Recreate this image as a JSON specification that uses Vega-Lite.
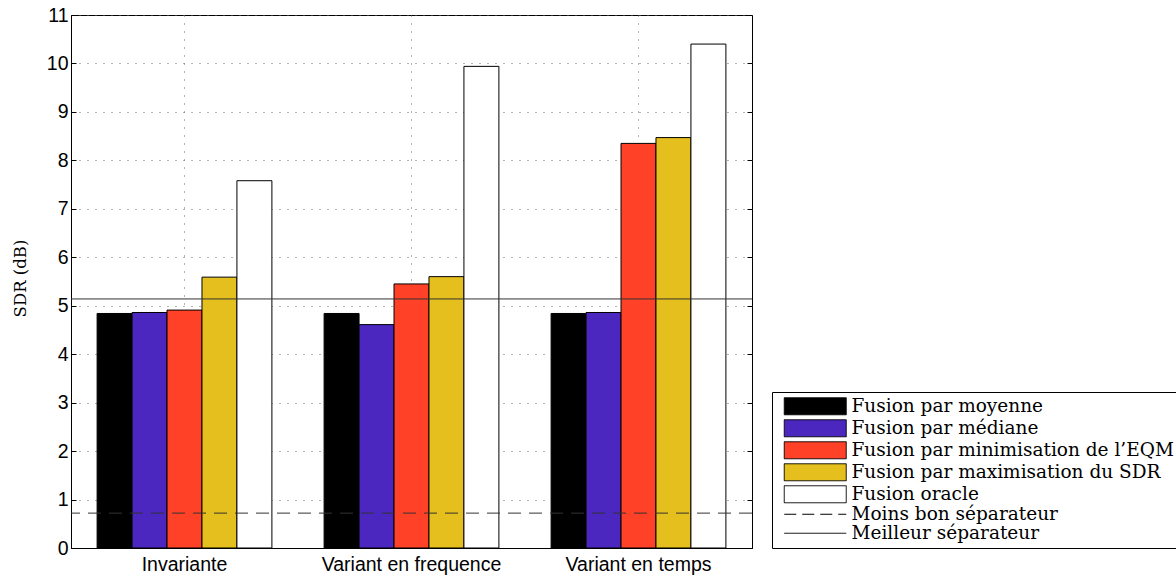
{
  "$schema": "https://vega.github.io/schema/vega-lite/v6.json",
  "width": 681,
  "height": 533,
  "autosize": {"type": "none"},
  "padding": {"left": 71, "top": 15, "right": 424, "bottom": 32},
  "background": "white",
  "config": {
    "view": {"stroke": "black", "strokeWidth": 1},
    "axis": {
      "labelFont": "Liberation Sans",
      "labelFontSize": 19.5,
      "labelColor": "black",
      "domainColor": "black",
      "tickColor": "black",
      "gridColor": "#666666",
      "gridDash": [1, 7],
      "gridWidth": 1
    }
  },
  "datasets": {
    "bars": [
      {"group": "Invariante", "series": "Fusion par moyenne", "value": 4.84},
      {"group": "Invariante", "series": "Fusion par médiane", "value": 4.86},
      {"group": "Invariante", "series": "Fusion par minimisation de l’EQM", "value": 4.91},
      {"group": "Invariante", "series": "Fusion par maximisation du SDR", "value": 5.59},
      {"group": "Invariante", "series": "Fusion oracle", "value": 7.58},
      {"group": "Variant en frequence", "series": "Fusion par moyenne", "value": 4.84},
      {"group": "Variant en frequence", "series": "Fusion par médiane", "value": 4.61},
      {"group": "Variant en frequence", "series": "Fusion par minimisation de l’EQM", "value": 5.45},
      {"group": "Variant en frequence", "series": "Fusion par maximisation du SDR", "value": 5.60},
      {"group": "Variant en frequence", "series": "Fusion oracle", "value": 9.94},
      {"group": "Variant en temps", "series": "Fusion par moyenne", "value": 4.84},
      {"group": "Variant en temps", "series": "Fusion par médiane", "value": 4.86},
      {"group": "Variant en temps", "series": "Fusion par minimisation de l’EQM", "value": 8.35},
      {"group": "Variant en temps", "series": "Fusion par maximisation du SDR", "value": 8.47},
      {"group": "Variant en temps", "series": "Fusion oracle", "value": 10.40}
    ],
    "refs": [
      {"series": "Moins bon séparateur", "value": 0.72},
      {"series": "Meilleur séparateur", "value": 5.14}
    ]
  },
  "layer": [
    {
      "data": {"name": "bars"},
      "mark": {"type": "bar", "stroke": "black", "strokeWidth": 1, "opacity": 1},
      "encoding": {
        "x": {
          "field": "group",
          "type": "nominal",
          "sort": ["Invariante", "Variant en frequence", "Variant en temps"],
          "scale": {"paddingInner": 0.23, "paddingOuter": 0.115},
          "axis": {"title": null, "labelAngle": 0, "labelPadding": 7, "ticks": false, "grid": true, "domain": true}
        },
        "xOffset": {
          "field": "series",
          "type": "nominal",
          "scale": {
            "domain": ["Fusion par moyenne", "Fusion par médiane", "Fusion par minimisation de l’EQM", "Fusion par maximisation du SDR", "Fusion oracle"],
            "paddingInner": 0, "paddingOuter": 0
          }
        },
        "y": {
          "field": "value",
          "type": "quantitative",
          "scale": {"domain": [0, 11], "nice": false, "zero": true},
          "axis": {
            "title": "SDR (dB)",
            "titleFont": "DejaVu Serif",
            "titleFontSize": 16.5,
            "titleFontWeight": "normal",
            "titleColor": "black",
            "titleX": -51,
            "titleY": 263,
            "titleAngle": -90,
            "titleAlign": "center",
            "titleBaseline": "middle",
            "values": [0, 1, 2, 3, 4, 5, 6, 7, 8, 9, 10, 11],
            "tickSize": -5,
            "labelPadding": 8,
            "grid": true
          }
        },
        "fill": {
          "field": "series",
          "type": "nominal",
          "scale": {
            "domain": ["Fusion par moyenne", "Fusion par médiane", "Fusion par minimisation de l’EQM", "Fusion par maximisation du SDR", "Fusion oracle", "Moins bon séparateur", "Meilleur séparateur"],
            "range": ["#000000", "#4B27BF", "#FF4127", "#E5BF1D", "#FFFFFF", "transparent", "transparent"]
          },
          "legend": {
            "orient": "none",
            "legendX": 701,
            "legendY": 377,
            "title": null,
            "strokeColor": "black",
            "fillColor": "white",
            "padding": 5,
            "rowPadding": 0,
            "labelFont": "DejaVu Serif",
            "labelFontSize": 18.5,
            "labelColor": "black",
            "labelLimit": 400,
            "labelOffset": 56,
            "symbolSize": 289,
            "symbolStrokeColor": "black",
            "symbolStrokeWidth": 1,
            "symbolOpacity": 1,
            "encode": {
              "symbols": {
                "update": {
                  "shape": {"signal": "(datum.value === 'Moins bon séparateur' || datum.value === 'Meilleur séparateur') ? 'M-0.235,0H7.06' : 'M-0.235,-1H7.06V1H-0.235Z'"},
                  "strokeDash": {"signal": "datum.value === 'Moins bon séparateur' ? [12, 6] : [1, 0]"}
                }
              }
            }
          }
        }
      }
    },
    {
      "data": {"name": "refs"},
      "mark": {"type": "rule", "color": "#333333", "strokeWidth": 1},
      "encoding": {
        "y": {
          "field": "value",
          "type": "quantitative",
          "scale": {"domain": [0, 11], "nice": false, "zero": true},
          "axis": {
            "orient": "right",
            "title": null,
            "labels": false,
            "domain": false,
            "grid": false,
            "values": [0, 1, 2, 3, 4, 5, 6, 7, 8, 9, 10, 11],
            "tickSize": -5
          }
        },
        "strokeDash": {
          "field": "series",
          "type": "nominal",
          "scale": {"domain": ["Moins bon séparateur", "Meilleur séparateur"], "range": [[13, 8], [1, 0]]},
          "legend": null
        }
      }
    }
  ],
  "resolve": {"axis": {"y": "independent"}}
}
